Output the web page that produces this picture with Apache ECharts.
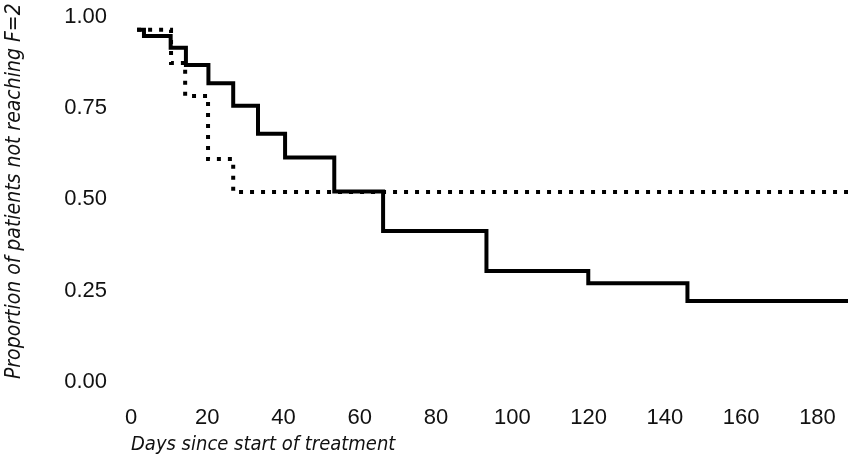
<!DOCTYPE html>
<html>
<head>
<meta charset="utf-8">
<script src="https://cdn.jsdelivr.net/npm/echarts@6/dist/echarts.min.js"></script>
<style>
html,body{margin:0;padding:0;background:#fff;}
#chart{width:848px;height:461px;}
</style>
</head>
<body>
<div id="chart"></div>
<script>
// Kaplan-Meier style data
var solidDays   = [1.6, 3.4, 10.4, 14.4, 20.3, 26.8, 33.3, 40.4, 53.3, 66.1, 93.2, 119.9, 145.9, 188];
var solidValues = [0.964, 0.947, 0.915, 0.868, 0.818, 0.756, 0.679, 0.614, 0.521, 0.413, 0.303, 0.270, 0.221, 0.221];
var dashedDays   = [1.6, 10.5, 14.2, 20.2, 26.8, 188];
var dashedValues = [0.964, 0.873, 0.783, 0.610, 0.520, 0.520];
var xTicks = [0, 20, 40, 60, 80, 100, 120, 140, 160, 180];
var yTicks = [0, 0.25, 0.5, 0.75, 1];
var xTitle = 'Days since start of treatment';
var yTitle = 'Proportion of patients not reaching F=2';

function pairs(xs, ys){ return xs.map(function(x,i){ return [x, ys[i]]; }); }

var tickFont = "'Liberation Sans', Arial, sans-serif";
var titleFont = "'DejaVu Sans Condensed', 'Liberation Sans Narrow', sans-serif";

var chart = echarts.init(document.getElementById('chart'), null, {renderer:'canvas'});
chart.setOption({
  animation: false,
  backgroundColor: '#fff',
  title: {
    text: xTitle,
    left: 131,
    top: 435,
    padding: 0,
    textStyle: {fontFamily: titleFont, fontStyle: 'italic', fontWeight: 'normal', fontSize: 20, color: '#111'}
  },
  grid: {left: 131, right: 0, top: 16.7, bottom: 79.3, outerBoundsMode: 'none', containLabel: false},
  xAxis: {
    type: 'value', min: 0, max: 188, interval: 20,
    axisLine: {show: false}, axisTick: {show: false}, splitLine: {show: false},
    axisLabel: {
      margin: 25, color: '#111', fontFamily: tickFont, fontSize: 22,
      formatter: function(v){ return xTicks.indexOf(v) >= 0 ? String(v) : ''; }
    }
  },
  yAxis: {
    type: 'value', min: 0, max: 1, interval: 0.25,
    axisLine: {show: false}, axisTick: {show: false}, splitLine: {show: false},
    axisLabel: {
      margin: 24, color: '#111', fontFamily: tickFont, fontSize: 22,
      formatter: function(v){ return yTicks.indexOf(v) >= 0 ? v.toFixed(2) : ''; }
    },
    name: yTitle, nameLocation: 'middle', nameRotate: 90, nameGap: 106,
    nameTextStyle: {fontFamily: titleFont, fontStyle: 'italic', fontSize: 21, color: '#111', padding: [0, 0, 0, 16]}
  },
  series: [
    {
      type: 'line', step: 'end', symbol: 'none', showSymbol: false,
      data: pairs(solidDays, solidValues),
      lineStyle: {color: '#000', width: 4, cap: 'butt', join: 'miter'}
    },
    {
      type: 'line', step: 'end', symbol: 'none', showSymbol: false,
      data: pairs(dashedDays, dashedValues),
      lineStyle: {color: '#000', width: 4, type: [4, 7], cap: 'butt', join: 'miter'}
    }
  ]
});
</script>
</body>
</html>
